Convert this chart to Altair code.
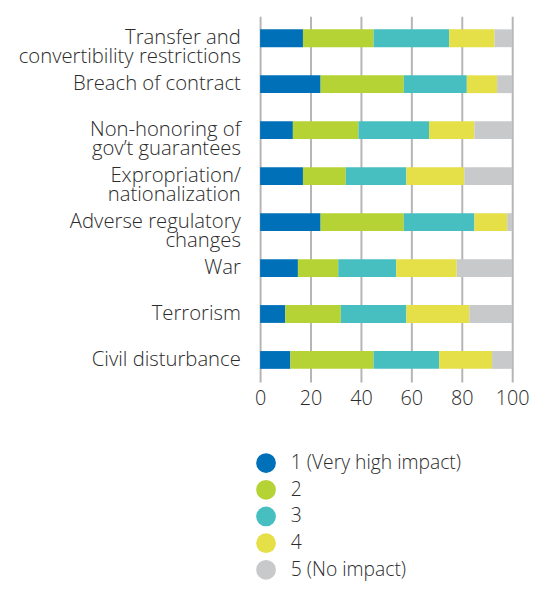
import altair as alt
import pandas as pd

categories = [
    "Transfer and|convertibility restrictions",
    "Breach of contract",
    "Non-honoring of|gov\u2019t guarantees",
    "Expropriation/|nationalization",
    "Adverse regulatory|changes",
    "War",
    "Terrorism",
    "Civil disturbance",
]
levels = ["1 (Very high impact)", "2", "3", "4", "5 (No impact)"]
v1 = [17, 24, 13, 17, 24, 15, 10, 12]
v2 = [28, 33, 26, 17, 33, 16, 22, 33]
v3 = [30, 25, 28, 24, 28, 23, 26, 26]
v4 = [18, 12, 18, 23, 13, 24, 25, 21]
v5 = [7, 6, 15, 19, 2, 22, 17, 8]
series = [v1, v2, v3, v4, v5]
colors = ["#0071b8", "#b5d334", "#47bfc0", "#e5df48", "#c8c9cb"]
x_ticks = [0, 20, 40, 60, 80, 100]

rows = []
for i, c in enumerate(categories):
    for j, (lvl, vals) in enumerate(zip(levels, series)):
        rows.append({"risk": c, "level": lvl, "order": j, "value": vals[i]})
df = pd.DataFrame(rows)

FONT = "Open Sans"
TXT = "#2b2b2b"

chart = alt.Chart(df).mark_bar(size=18).encode(
    x=alt.X(
        "value:Q",
        stack="zero",
        scale=alt.Scale(domain=[0, 100], nice=False),
        axis=alt.Axis(
            values=x_ticks, grid=True, gridColor="#b5b5b5", gridWidth=2,
            domain=False, ticks=False, labelFontSize=20, labelPadding=7,
            labelFlush=False,
            title=None, labelFont=FONT, labelColor=TXT, labelFontWeight=300,
        ),
    ),
    y=alt.Y(
        "risk:N",
        sort=categories,
        scale=alt.Scale(paddingInner=0.6, paddingOuter=0.28),
        axis=alt.Axis(
            title=None, ticks=False, domain=False,
            labelExpr="split(datum.label, '|')",
            labelFontSize=20.5, labelLineHeight=19, labelPadding=20,
            minExtent=252, maxExtent=252, labelLimit=300,
            labelFont=FONT, labelColor=TXT, labelFontWeight=300,
        ),
    ),
    color=alt.Color(
        "level:N",
        sort=levels,
        scale=alt.Scale(domain=levels, range=colors),
        legend=alt.Legend(
            orient="none", legendX=-4, legendY=442, title=None,
            symbolType="circle", symbolSize=400, symbolStrokeWidth=0,
            labelFontSize=19.5, labelFont=FONT, labelColor=TXT,
            labelFontWeight=300, rowPadding=7, labelOffset=15,
            symbolOpacity=1, labelLimit=400,
        ),
    ),
    order=alt.Order("order:Q"),
).properties(
    width=255, height=370,
    padding={"left": 3, "top": 5, "right": 0, "bottom": 0},
).configure_view(stroke=None)

chart.save("out.html", embed_options={"renderer": "svg", "actions": False})
